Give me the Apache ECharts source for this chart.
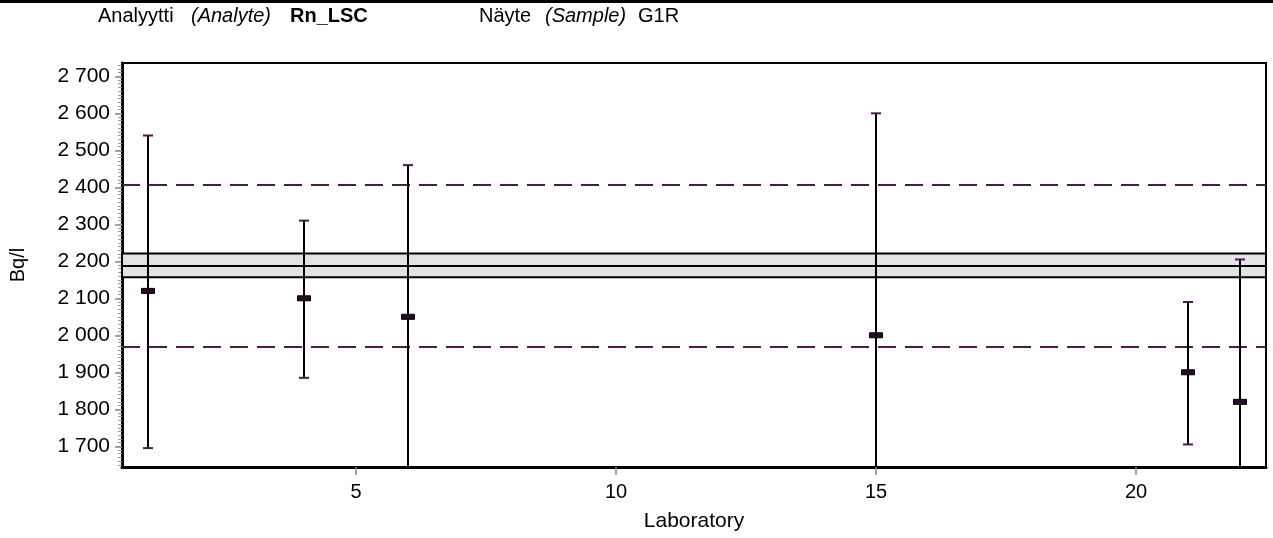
<!DOCTYPE html>
<html>
<head>
<meta charset="utf-8">
<script src="https://cdn.jsdelivr.net/npm/echarts@6/dist/echarts.min.js"></script>
<style>
  html, body { margin: 0; padding: 0; background: #fff; }
  #chart { width: 1273px; height: 538px; }
</style>
</head>
<body>
<div id="chart"></div>
<script>
// laboratory results (Bq/l)
const labs = [1, 4, 6, 15, 21, 22]
const means = [2120, 2100, 2050, 2000, 1900, 1820]
const lowers = [1695, 1885, 1640, 1400, 1705, 1435]
const uppers = [2540, 2310, 2460, 2600, 2090, 2205]

// assigned value, its uncertainty and the +-10 % limits
const assigned = 2189
const assignedBand = [2157, 2221]
const limits = [1970, 2408]

const xTicks = [5, 10, 15, 20]
const yTicks = [1700, 1800, 1900, 2000, 2100, 2200, 2300, 2400, 2500, 2600, 2700]
const yMinorTicks = []
for (let v = 1650; v <= 2730; v += 10) yMinorTicks.push(v)

const FONT = '"Liberation Sans", Arial, sans-serif'
const PURPLE = '#4d1a4d'

function fmt(v) {
  return String(v).replace(/\B(?=(\d{3})+(?!\d))/g, ' ')
}

const chart = echarts.init(document.getElementById('chart'))

function renderBar(params, api) {
  const x = api.value(0)
  const pm = api.coord([x, api.value(1)])
  const pl = api.coord([x, api.value(2)])
  const ph = api.coord([x, api.value(3)])
  const cs = params.coordSys
  const top = cs.y
  const bottom = cs.y + cs.height
  const y1 = Math.max(ph[1], top)
  const y2 = Math.min(pl[1], bottom)
  const children = [
    {
      type: 'line',
      shape: { x1: pm[0], y1: y1, x2: pm[0], y2: y2 },
      style: { stroke: '#000', lineWidth: 2 }
    }
  ]
  if (ph[1] >= top) {
    children.push({
      type: 'line',
      shape: { x1: ph[0] - 5, y1: ph[1], x2: ph[0] + 5, y2: ph[1] },
      style: { stroke: PURPLE, lineWidth: 2 }
    })
  }
  if (pl[1] <= bottom) {
    children.push({
      type: 'line',
      shape: { x1: pl[0] - 5, y1: pl[1], x2: pl[0] + 5, y2: pl[1] },
      style: { stroke: PURPLE, lineWidth: 2 }
    })
  }
  children.push({
    type: 'rect',
    shape: { x: pm[0] - 6.5, y: pm[1] - 2.5, width: 13, height: 5 },
    style: { fill: '#2a0a2a', stroke: '#000', lineWidth: 1 }
  })
  return { type: 'group', children: children }
}

function headerText(x, text, style) {
  return {
    type: 'text',
    left: x,
    top: 6,
    style: { text: text, font: (style || '') + ' 20px ' + FONT, fill: '#000' }
  }
}

const option = {
  animation: false,
  textStyle: { fontFamily: FONT },
  graphic: [
    { type: 'rect', shape: { x: 0, y: 0, width: 1273, height: 3 }, style: { fill: '#000' } },
    headerText(98, 'Analyytti'),
    headerText(191, '(Analyte)', 'italic'),
    headerText(290, 'Rn_LSC', 'bold'),
    headerText(479, 'Näyte'),
    headerText(545, '(Sample)', 'italic'),
    headerText(638, 'G1R')
  ],
  grid: {
    left: 122,
    right: 7,
    top: 63,
    bottom: 71,
    show: true,
    borderColor: '#000',
    borderWidth: 2,
    backgroundColor: '#fff'
  },
  xAxis: {
    type: 'value',
    min: 0.5,
    max: 22.5,
    name: 'Laboratory',
    nameLocation: 'middle',
    nameGap: 44,
    nameTextStyle: { fontSize: 21, color: '#000', fontFamily: FONT },
    axisLine: { show: true, lineStyle: { color: '#000', width: 3 } },
    axisTick: { show: true, customValues: xTicks, length: 8, lineStyle: { color: '#888', width: 1.5 } },
    axisLabel: { customValues: xTicks, fontSize: 20, color: '#000', margin: 15, fontFamily: FONT },
    splitLine: { show: false }
  },
  yAxis: [
    {
      type: 'value',
      min: 1644,
      max: 2736,
      name: 'Bq/l',
      nameLocation: 'middle',
      nameGap: 94,
      nameRotate: 90,
      nameTextStyle: { fontSize: 20, color: '#000', fontFamily: FONT },
      axisLine: { show: true, lineStyle: { color: '#000', width: 3 } },
      axisTick: { show: true, customValues: yTicks, length: 7, lineStyle: { color: '#888', width: 1.5 } },
      axisLabel: { customValues: yTicks, formatter: fmt, fontSize: 21, color: '#000', margin: 12, fontFamily: FONT },
      splitLine: { show: false }
    },
    {
      type: 'value',
      min: 1644,
      max: 2736,
      position: 'left',
      axisLine: { show: false },
      axisTick: { show: true, customValues: yMinorTicks, length: 4, lineStyle: { color: '#999', width: 1 } },
      axisLabel: { show: false },
      splitLine: { show: false }
    }
  ],
  series: [
    {
      type: 'line',
      data: [],
      z: 1,
      silent: true,
      markArea: {
        silent: true,
        itemStyle: { color: '#e3e3e3', borderColor: '#000', borderWidth: 2 },
        data: [[{ yAxis: assignedBand[0] }, { yAxis: assignedBand[1] }]]
      },
      markLine: {
        silent: true,
        symbol: 'none',
        label: { show: false },
        data: [
          { yAxis: assigned, lineStyle: { color: '#000', width: 2, type: 'solid' } },
          { yAxis: limits[0], lineStyle: { color: PURPLE, width: 2, type: [18, 9] } },
          { yAxis: limits[1], lineStyle: { color: PURPLE, width: 2, type: [18, 9] } }
        ]
      }
    },
    {
      type: 'custom',
      z: 5,
      renderItem: renderBar,
      data: labs.map((l, i) => [l, means[i], lowers[i], uppers[i]])
    }
  ]
}

chart.setOption(option)
</script>
</body>
</html>
